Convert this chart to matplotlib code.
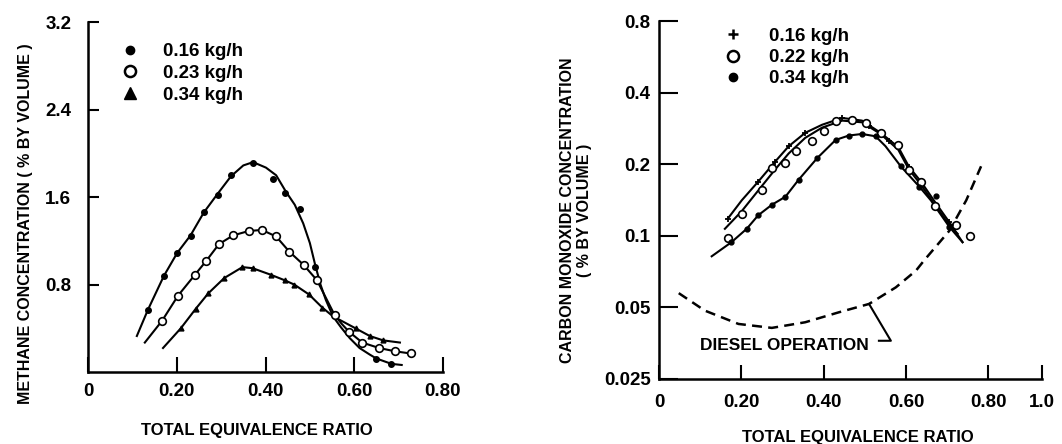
import matplotlib
matplotlib.use('Agg')
import matplotlib.pyplot as plt
from matplotlib.lines import Line2D
from matplotlib.ticker import NullLocator

plt.rcParams['font.family'] = ['Liberation Sans']
plt.rcParams['font.weight'] = 'bold'

# ---- left panel: methane ----
ch4_labels = ['0.16 kg/h', '0.23 kg/h', '0.34 kg/h']

# curve lines
ch4_a_x = [0.110, 0.135, 0.171, 0.201, 0.231, 0.261, 0.292, 0.322, 0.350, 0.372, 0.401, 0.424,
           0.446, 0.466, 0.485, 0.500, 0.512, 0.524, 0.536, 0.552, 0.570, 0.590, 0.612, 0.635,
           0.650, 0.684, 0.707]
ch4_a_y = [0.33, 0.57, 0.88, 1.09, 1.25, 1.46, 1.63, 1.79, 1.89, 1.92, 1.87, 1.80,
           1.65, 1.53, 1.36, 1.18, 0.98, 0.80, 0.66, 0.51, 0.41, 0.31, 0.22, 0.16,
           0.124, 0.075, 0.065]
ch4_b_x = [0.128, 0.167, 0.203, 0.241, 0.267, 0.295, 0.327, 0.362, 0.392, 0.424, 0.454, 0.486,
           0.516, 0.536, 0.556, 0.572, 0.588, 0.618, 0.656, 0.692, 0.727]
ch4_b_y = [0.27, 0.47, 0.70, 0.89, 1.02, 1.17, 1.25, 1.29, 1.30, 1.24, 1.10, 0.98,
           0.84, 0.68, 0.52, 0.44, 0.37, 0.27, 0.22, 0.19, 0.17]
ch4_c_x = [0.169, 0.209, 0.243, 0.271, 0.307, 0.348, 0.371, 0.412, 0.443, 0.465, 0.498, 0.528,
           0.552, 0.580, 0.603, 0.635, 0.665, 0.703]
ch4_c_y = [0.22, 0.40, 0.58, 0.72, 0.86, 0.96, 0.95, 0.89, 0.84, 0.80, 0.71, 0.59,
           0.51, 0.45, 0.40, 0.33, 0.29, 0.27]

# measured points
ch4_a_px = [0.135, 0.171, 0.201, 0.231, 0.261, 0.292, 0.322, 0.372, 0.418, 0.445, 0.477, 0.511, 0.650, 0.684]
ch4_a_py = [0.57, 0.88, 1.09, 1.24, 1.46, 1.62, 1.80, 1.91, 1.77, 1.64, 1.49, 0.96, 0.124, 0.075]
ch4_b_px = [0.167, 0.203, 0.241, 0.267, 0.295, 0.327, 0.362, 0.392, 0.424, 0.454, 0.486, 0.516,
            0.556, 0.588, 0.618, 0.656, 0.692, 0.727]
ch4_b_py = [0.47, 0.70, 0.89, 1.02, 1.17, 1.25, 1.29, 1.30, 1.24, 1.10, 0.98, 0.84,
            0.52, 0.37, 0.27, 0.22, 0.19, 0.17]
ch4_c_px = [0.209, 0.243, 0.271, 0.307, 0.348, 0.371, 0.412, 0.443, 0.465, 0.498, 0.528, 0.603, 0.635, 0.665]
ch4_c_py = [0.40, 0.58, 0.72, 0.86, 0.96, 0.95, 0.89, 0.84, 0.80, 0.71, 0.59, 0.40, 0.33, 0.29]

ch4_xticks = [0, 0.2, 0.4, 0.6, 0.8]
ch4_xticklabels = ['0', '0.20', '0.40', '0.60', '0.80']
ch4_yticks = [0.8, 1.6, 2.4, 3.2]
ch4_yticklabels = ['0.8', '1.6', '2.4', '3.2']

# ---- right panel: carbon monoxide ----
co_labels = ['0.16 kg/h', '0.22 kg/h', '0.34 kg/h']

co_a_x = [0.167, 0.201, 0.241, 0.282, 0.315, 0.355, 0.396, 0.445, 0.493, 0.538, 0.581, 0.607,
          0.636, 0.671, 0.705, 0.737]
co_a_y = [0.118, 0.141, 0.169, 0.205, 0.238, 0.271, 0.293, 0.313, 0.305, 0.271, 0.236, 0.195,
          0.169, 0.138, 0.114, 0.094]
co_b_x = [0.160, 0.201, 0.241, 0.282, 0.315, 0.355, 0.396, 0.445, 0.493, 0.538, 0.581, 0.607,
          0.636, 0.671, 0.705, 0.725]
co_b_y = [0.107, 0.127, 0.155, 0.190, 0.222, 0.258, 0.285, 0.305, 0.300, 0.268, 0.230, 0.190,
          0.164, 0.134, 0.111, 0.102]
co_c_x = [0.128, 0.176, 0.213, 0.241, 0.274, 0.307, 0.339, 0.384, 0.429, 0.461, 0.493, 0.526,
          0.550, 0.587, 0.632, 0.660, 0.705, 0.737]
co_c_y = [0.082, 0.094, 0.107, 0.122, 0.135, 0.146, 0.172, 0.212, 0.253, 0.264, 0.268, 0.262,
          0.238, 0.196, 0.161, 0.141, 0.109, 0.094]

co_a_px = [0.167, 0.241, 0.282, 0.315, 0.355, 0.445, 0.510, 0.559, 0.607, 0.705]
co_a_py = [0.118, 0.169, 0.205, 0.238, 0.271, 0.313, 0.290, 0.250, 0.195, 0.114]
co_b_px = [0.167, 0.201, 0.250, 0.274, 0.307, 0.332, 0.371, 0.400, 0.429, 0.469, 0.502, 0.538,
           0.581, 0.607, 0.636, 0.671, 0.721, 0.754]
co_b_py = [0.098, 0.124, 0.156, 0.192, 0.202, 0.227, 0.250, 0.275, 0.303, 0.306, 0.299, 0.271,
           0.241, 0.189, 0.169, 0.133, 0.111, 0.100]
co_c_px = [0.176, 0.213, 0.241, 0.274, 0.307, 0.339, 0.384, 0.429, 0.461, 0.493, 0.526, 0.587,
           0.632, 0.672, 0.705]
co_c_py = [0.094, 0.107, 0.122, 0.135, 0.146, 0.172, 0.212, 0.253, 0.264, 0.268, 0.262, 0.196,
           0.161, 0.147, 0.109]

diesel_x = [0.048, 0.111, 0.193, 0.274, 0.355, 0.437, 0.510, 0.575, 0.624, 0.644, 0.705, 0.746, 0.782]
diesel_y = [0.0574, 0.0485, 0.0426, 0.0410, 0.0433, 0.0477, 0.0517, 0.0607, 0.0714, 0.0789,
            0.105, 0.141, 0.196]
diesel_label = 'DIESEL OPERATION'
leader_x = [0.510, 0.563, 0.534]
leader_y = [0.0517, 0.0362, 0.0362]

co_xticks = [0, 0.2, 0.4, 0.6, 0.8, 0.93]
co_xticklabels = ['0', '0.20', '0.40', '0.60', '0.80', '1.0']
co_yticks = [0.025, 0.05, 0.1, 0.2, 0.4, 0.8]
co_yticklabels = ['0.025', '0.05', '0.1', '0.2', '0.4', '0.8']

fig = plt.figure(figsize=(10.62, 4.44), dpi=100)
ax1 = fig.add_axes([0.0829, 0.162, 0.3342, 0.788])
ax2 = fig.add_axes([0.6205, 0.1464, 0.3607, 0.8063])

lw = 1.5
for ax in (ax1, ax2):
    ax.spines['top'].set_visible(False)
    ax.spines['right'].set_visible(False)
    ax.spines['left'].set_linewidth(1.8)
    ax.spines['bottom'].set_linewidth(1.8)

# left
ax1.plot(ch4_a_x, ch4_a_y, color='black', lw=lw)
ax1.plot(ch4_b_x, ch4_b_y, color='black', lw=lw)
ax1.plot(ch4_c_x, ch4_c_y, color='black', lw=lw)
ax1.plot(ch4_a_px, ch4_a_py, 'o', color='black', ms=4)
ax1.plot(ch4_b_px, ch4_b_py, 'o', mfc='white', mec='black', mew=1.2, ms=5.5)
ax1.plot(ch4_c_px, ch4_c_py, '^', color='black', ms=3.5)
ax1.set_xlim(0, 0.8)
ax1.set_ylim(0, 3.2)
ax1.set_xticks(ch4_xticks)
ax1.set_xticklabels(ch4_xticklabels)
ax1.set_yticks(ch4_yticks)
ax1.set_yticklabels(ch4_yticklabels)
ax1.tick_params(axis='both', direction='in', width=1.5, labelsize=13.5)
ax1.tick_params(axis='y', length=8, pad=12)
ax1.tick_params(axis='x', length=11, pad=8)

h1 = [Line2D([], [], ls='none', marker='o', color='black', ms=6),
      Line2D([], [], ls='none', marker='o', mfc='white', mec='black', mew=1.8, ms=8),
      Line2D([], [], ls='none', marker='^', color='black', ms=8)]
ax1.legend(h1, ch4_labels, loc='upper left', bbox_to_anchor=(0.093, 0.94), frameon=False,
           fontsize=13.5, handlelength=1.0, handletextpad=1.25, labelspacing=0.24,
           borderpad=0, borderaxespad=0)

fig.text(26 / 1062, 1 - 224 / 444, 'METHANE CONCENTRATION ( % BY VOLUME )', rotation=90,
         ha='center', va='center', fontsize=11.5)
fig.text(257 / 1062, 1 - 430 / 444, 'TOTAL EQUIVALENCE RATIO', ha='center', va='center', fontsize=12)

# right
ax2.set_yscale('log')
ax2.plot(co_a_x, co_a_y, color='black', lw=lw)
ax2.plot(co_b_x, co_b_y, color='black', lw=lw)
ax2.plot(co_c_x, co_c_y, color='black', lw=lw)
ax2.plot(co_a_px, co_a_py, '+', color='black', ms=5, mew=1.3)
ax2.plot(co_b_px, co_b_py, 'o', mfc='white', mec='black', mew=1.2, ms=5.5)
ax2.plot(co_c_px, co_c_py, 'o', color='black', ms=3.5)
ax2.plot(diesel_x, diesel_y, color='black', lw=1.8, dashes=(4, 2.5))
ax2.plot(leader_x, leader_y, color='black', lw=1.5)
ax2.text(0.51, 0.0345, diesel_label, ha='right', va='center', fontsize=12.5)
ax2.set_xlim(0, 0.93)
ax2.set_ylim(0.025, 0.8)
ax2.set_xticks(co_xticks)
ax2.set_xticklabels(co_xticklabels)
ax2.set_yticks(co_yticks)
ax2.set_yticklabels(co_yticklabels)
ax2.yaxis.set_minor_locator(NullLocator())
ax2.tick_params(axis='both', direction='in', width=1.5, labelsize=13.5)
ax2.tick_params(axis='y', length=14, pad=6)
ax2.tick_params(axis='x', length=10, pad=11)

h2 = [Line2D([], [], ls='none', marker='+', color='black', ms=7, mew=1.8),
      Line2D([], [], ls='none', marker='o', mfc='white', mec='black', mew=1.8, ms=8),
      Line2D([], [], ls='none', marker='o', color='black', ms=6)]
ax2.legend(h2, co_labels, loc='upper left', bbox_to_anchor=(0.170, 0.981), frameon=False,
           fontsize=13.5, handlelength=1.0, handletextpad=1.4, labelspacing=0.22,
           borderpad=0, borderaxespad=0)

fig.text(576 / 1062, 1 - 210 / 444, 'CARBON MONOXIDE CONCENTRATION\n( % BY VOLUME )', rotation=90,
         ha='center', va='center', multialignment='center', linespacing=1.1, fontsize=11.5)
fig.text(858 / 1062, 1 - 437 / 444, 'TOTAL EQUIVALENCE RATIO', ha='center', va='center', fontsize=12)

fig.savefig('out.png', dpi=100)
